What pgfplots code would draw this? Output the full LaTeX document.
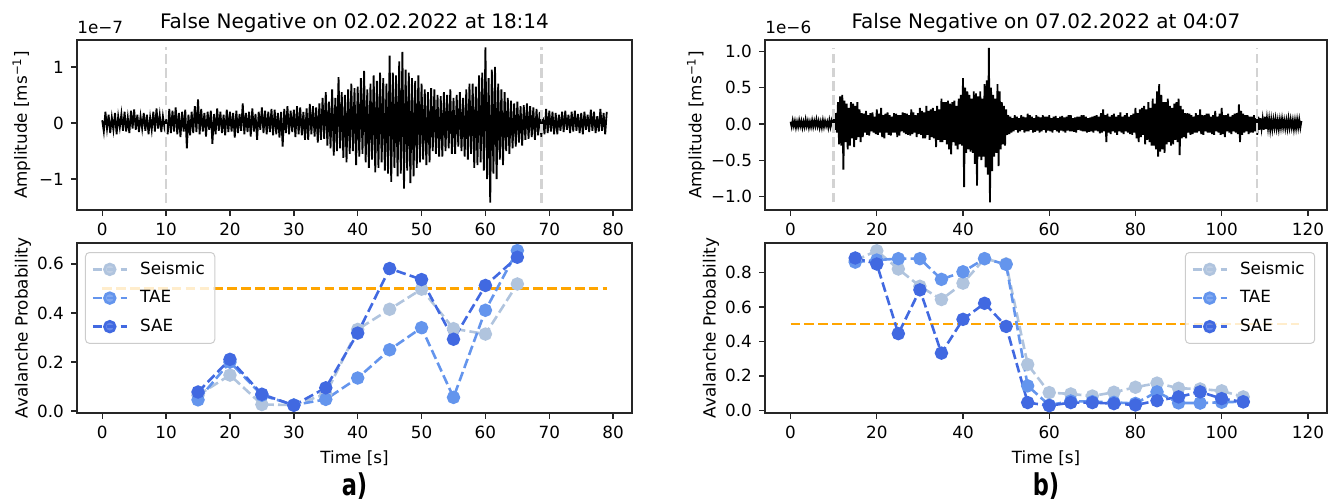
\documentclass[border=0pt]{standalone}
\usepackage{fontspec}
\setmainfont{DejaVu Sans}
\usepackage{graphicx}
\usepackage{pgfplots}
\usepackage{pgfplotstable}
\pgfplotsset{compat=1.18}
\definecolor{seis}{HTML}{B0C4DE}
\definecolor{tae}{HTML}{6495ED}
\definecolor{sae}{HTML}{4169E1}
\definecolor{orng}{HTML}{FFA500}
\definecolor{vgrey}{HTML}{D3D3D3}
\definecolor{lgdedge}{HTML}{CCCCCC}
\definecolor{axgrey}{HTML}{262626}

% waveform a), units 1e-7, one sample every 0.25 s
\pgfplotstableread[header=false,row sep=\\]{
0.05\\-0.15\\0.2\\-0.1\\ 0.15\\-0.18\\0.1\\-0.12\\ 0.18\\-0.2\\0.12\\-0.08\\ 0.16\\-0.14\\0.2\\-0.15\\
0.1\\-0.18\\0.22\\-0.1\\ 0.24\\-0.12\\0.15\\-0.16\\ 0.12\\-0.1\\0.18\\-0.14\\ 0.15\\-0.2\\0.1\\-0.12\\
0.2\\-0.15\\0.26\\-0.1\\ 0.14\\-0.16\\0.12\\-0.08\\ 0.05\\-0.2\\0.25\\-0.18\\ 0.22\\-0.15\\0.28\\-0.2\\
0.18\\-0.25\\0.2\\-0.15\\ 0.24\\-0.45\\0.15\\-0.22\\ 0.2\\-0.18\\0.3\\-0.16\\ 0.42\\-0.2\\0.25\\-0.15\\
0.18\\-0.24\\0.2\\-0.12\\ 0.22\\-0.37\\0.16\\-0.2\\ 0.26\\-0.14\\0.2\\-0.18\\ 0.15\\-0.22\\0.24\\-0.16\\
0.2\\-0.15\\0.18\\-0.26\\ 0.22\\-0.18\\0.16\\-0.14\\ 0.35\\-0.2\\0.18\\-0.16\\ 0.2\\-0.24\\0.26\\-0.15\\
0.16\\-0.3\\0.2\\-0.12\\ 0.28\\-0.18\\0.22\\-0.2\\ 0.2\\-0.16\\0.25\\-0.22\\ 0.24\\-0.2\\0.18\\-0.26\\
0.2\\-0.42\\0.25\\-0.18\\ 0.3\\-0.2\\0.22\\-0.16\\ 0.24\\-0.25\\0.3\\-0.2\\ 0.28\\-0.22\\0.2\\-0.3\\
0.26\\-0.3\\0.34\\-0.2\\ 0.3\\-0.24\\0.28\\-0.35\\ 0.35\\-0.3\\0.45\\-0.28\\ 0.55\\-0.4\\0.38\\-0.45\\
0.6\\-0.58\\0.45\\-0.5\\ 0.82\\-0.45\\0.55\\-0.62\\ 0.5\\-0.7\\0.6\\-0.55\\ 0.7\\-0.5\\0.62\\-0.75\\
0.65\\-0.6\\0.8\\-0.55\\ 0.93\\-0.7\\0.6\\-0.8\\ 0.7\\-0.65\\0.85\\-0.88\\ 0.75\\-0.8\\0.9\\-0.7\\
0.8\\-0.85\\0.7\\-0.9\\ 1.2\\-1.05\\0.9\\-0.8\\ 0.85\\-0.95\\1.1\\-0.9\\ 1.27\\-1.17\\0.95\\-0.85\\
0.9\\-1.07\\0.8\\-0.95\\ 0.75\\-0.8\\0.85\\-0.7\\ 0.7\\-0.65\\0.6\\-0.75\\ 0.55\\-0.7\\0.62\\-0.5\\
0.6\\-0.55\\0.5\\-0.6\\ 0.48\\-0.6\\0.55\\-0.5\\ 0.5\\-0.45\\0.6\\-0.55\\ 0.45\\-0.55\\0.5\\-0.42\\
0.55\\-0.5\\0.45\\-0.6\\ 0.6\\-0.65\\0.7\\-0.55\\ 0.7\\-0.8\\0.65\\-0.75\\ 0.85\\-0.7\\0.9\\-0.85\\
1.35\\-1.0\\0.8\\-1.42\\ 0.95\\-0.9\\1.0\\-1.0\\ 0.7\\-0.65\\0.6\\-0.75\\ 0.55\\-0.5\\0.45\\-0.55\\
0.4\\-0.45\\0.35\\-0.42\\ 0.38\\-0.35\\0.3\\-0.4\\ 0.32\\-0.3\\0.35\\-0.28\\ 0.3\\-0.25\\0.28\\-0.3\\
0.25\\-0.22\\0.2\\-0.25\\ 0.1\\-0.2\\0.25\\-0.18\\ 0.22\\-0.15\\0.2\\-0.2\\ 0.18\\-0.2\\0.15\\-0.14\\
0.2\\-0.16\\0.22\\-0.12\\ 0.15\\-0.18\\0.2\\-0.15\\ 0.22\\-0.14\\0.16\\-0.18\\ 0.18\\-0.2\\0.2\\-0.12\\
0.15\\-0.16\\0.24\\-0.14\\ 0.2\\-0.18\\0.12\\-0.15\\ 0.25\\-0.14\\0.18\\-0.2\\ 0.2\\
}\wavea

% waveform b), units 1e-6, one sample every 0.25 s
\pgfplotstableread[header=false,row sep=\\]{
0.03\\-0.04\\0.05\\-0.03\\ 0.04\\-0.05\\0.03\\-0.04\\ 0.05\\-0.03\\0.04\\-0.05\\ 0.03\\-0.04\\0.06\\-0.03\\
0.04\\-0.05\\0.03\\-0.04\\ 0.05\\-0.04\\0.04\\-0.03\\ 0.06\\-0.03\\0.04\\-0.05\\ 0.03\\-0.05\\0.05\\-0.04\\
0.04\\-0.03\\0.03\\-0.05\\ 0.05\\-0.04\\0.04\\-0.03\\ 0.06\\-0.08\\0.15\\-0.12\\ 0.3\\-0.28\\0.38\\-0.3\\
0.4\\-0.63\\0.32\\-0.25\\ 0.28\\-0.35\\0.22\\-0.3\\ 0.3\\-0.2\\0.28\\-0.32\\ 0.25\\-0.22\\0.3\\-0.18\\
0.2\\-0.25\\0.15\\-0.18\\ 0.14\\-0.12\\0.18\\-0.15\\ 0.12\\-0.16\\0.15\\-0.1\\ 0.16\\-0.12\\0.1\\-0.14\\
0.2\\-0.15\\0.14\\-0.12\\ 0.22\\-0.18\\0.12\\-0.2\\ 0.14\\-0.12\\0.16\\-0.15\\ 0.12\\-0.16\\0.1\\-0.12\\
0.15\\-0.12\\0.14\\-0.18\\ 0.12\\-0.16\\0.12\\-0.1\\ 0.16\\-0.12\\0.15\\-0.14\\ 0.14\\-0.15\\0.12\\-0.16\\
0.2\\-0.14\\0.16\\-0.12\\ 0.12\\-0.18\\0.15\\-0.14\\ 0.22\\-0.15\\0.18\\-0.2\\ 0.16\\-0.2\\0.25\\-0.15\\
0.18\\-0.22\\0.2\\-0.18\\ 0.22\\-0.2\\0.18\\-0.32\\ 0.25\\-0.22\\0.2\\-0.25\\ 0.35\\-0.25\\0.3\\-0.22\\
0.3\\-0.28\\0.32\\-0.35\\ 0.28\\-0.42\\0.3\\-0.25\\ 0.32\\-0.3\\0.25\\-0.35\\ 0.35\\-0.28\\0.4\\-0.3\\
0.63\\-0.87\\0.5\\-0.4\\ 0.45\\-0.35\\0.4\\-0.38\\ 0.35\\-0.4\\0.45\\-0.55\\ 0.42\\-0.85\\0.38\\-0.45\\
0.45\\-0.5\\0.35\\-0.45\\ 0.55\\-0.6\\0.6\\-0.7\\ 1.05\\-1.08\\0.5\\-0.65\\ 0.4\\-0.45\\0.35\\-0.4\\
0.55\\-0.58\\0.45\\-0.35\\ 0.3\\-0.28\\0.25\\-0.3\\ 0.2\\-0.15\\0.12\\-0.14\\ 0.1\\-0.12\\0.08\\-0.1\\
0.12\\-0.08\\0.1\\-0.12\\ 0.08\\-0.1\\0.12\\-0.08\\ 0.1\\-0.12\\0.09\\-0.1\\ 0.14\\-0.1\\0.12\\-0.08\\
0.1\\-0.12\\0.08\\-0.11\\ 0.12\\-0.09\\0.1\\-0.12\\ 0.09\\-0.1\\0.12\\-0.08\\ 0.1\\-0.12\\0.1\\-0.09\\
0.12\\-0.1\\0.08\\-0.12\\ 0.1\\-0.08\\0.11\\-0.1\\ 0.08\\-0.12\\0.1\\-0.09\\ 0.11\\-0.1\\0.09\\-0.12\\
0.1\\-0.09\\0.12\\-0.1\\ 0.12\\-0.1\\0.08\\-0.11\\ 0.09\\-0.12\\0.1\\-0.08\\ 0.1\\-0.09\\0.12\\-0.1\\
0.12\\-0.1\\0.1\\-0.12\\ 0.08\\-0.11\\0.09\\-0.1\\ 0.1\\-0.12\\0.11\\-0.09\\ 0.12\\-0.1\\0.1\\-0.13\\
0.15\\-0.12\\0.2\\-0.1\\ 0.12\\-0.25\\0.14\\-0.12\\ 0.1\\-0.14\\0.12\\-0.1\\ 0.14\\-0.12\\0.1\\-0.15\\
0.12\\-0.1\\0.16\\-0.12\\ 0.1\\-0.14\\0.12\\-0.1\\ 0.15\\-0.12\\0.1\\-0.14\\ 0.12\\-0.15\\0.14\\-0.12\\
0.22\\-0.2\\0.15\\-0.25\\ 0.2\\-0.18\\0.22\\-0.15\\ 0.25\\-0.28\\0.2\\-0.22\\ 0.3\\-0.25\\0.22\\-0.3\\
0.35\\-0.3\\0.28\\-0.35\\ 0.45\\-0.45\\0.55\\-0.38\\ 0.4\\-0.35\\0.3\\-0.4\\ 0.3\\-0.28\\0.35\\-0.25\\
0.25\\-0.3\\0.22\\-0.28\\ 0.28\\-0.22\\0.3\\-0.25\\ 0.35\\-0.43\\0.25\\-0.2\\ 0.2\\-0.18\\0.15\\-0.2\\
0.15\\-0.12\\0.14\\-0.15\\ 0.12\\-0.14\\0.1\\-0.12\\ 0.15\\-0.12\\0.12\\-0.1\\ 0.2\\-0.14\\0.12\\-0.15\\
0.12\\-0.1\\0.14\\-0.12\\ 0.14\\-0.12\\0.1\\-0.14\\ 0.12\\-0.15\\0.18\\-0.1\\ 0.1\\-0.12\\0.14\\-0.15\\
0.22\\-0.14\\0.12\\-0.18\\ 0.12\\-0.1\\0.14\\-0.12\\ 0.1\\-0.14\\0.12\\-0.1\\ 0.14\\-0.12\\0.15\\-0.14\\
0.27\\-0.25\\0.18\\-0.15\\ 0.14\\-0.12\\0.12\\-0.1\\ 0.12\\-0.14\\0.1\\-0.12\\ 0.1\\-0.12\\0.12\\-0.1\\
0.08\\-0.15\\0.1\\-0.08\\ 0.08\\-0.06\\0.07\\-0.08\\ 0.1\\-0.07\\0.08\\-0.06\\ 0.07\\-0.08\\0.06\\-0.07\\
0.06\\-0.05\\0.07\\-0.06\\ 0.05\\-0.07\\0.06\\-0.05\\ 0.07\\-0.05\\0.05\\-0.06\\ 0.05\\-0.06\\0.07\\-0.05\\
0.06\\-0.05\\0.05\\-0.07\\ 0.05\\-0.06\\0.06\\-0.05\\ 0.06\\-0.05\\0.04\\
}\waveb

\pgfplotsset{
  base/.style={
    scale only axis,
    axis line style={axgrey, line width=0.7pt},
    tick align=outside,
    major tick length=3pt,
    tick style={axgrey, line width=0.7pt},
    xtick pos=bottom, ytick pos=left,
    tick label style={font=\fontsize{8.4}{10}\selectfont},
    label style={font=\fontsize{8.4}{10}\selectfont},
    title style={font=\fontsize{10}{12}\selectfont, at={(0.5,1)}, anchor=base, yshift=-0.5pt, inner sep=0pt},
    clip=false,
  },
  prob/.style={
    line width=1.3pt, dash pattern=on 4.85pt off 2.1pt,
    mark=*, mark size=2.7pt, mark options={solid},
  },
  lgd/.style={
    legend image code/.code={\draw[mark repeat=2,mark phase=2,##1] plot coordinates {(0pt,0pt) (8.5pt,0pt) (17pt,0pt)};},
    legend style={font=\fontsize{8.4}{10}\selectfont, draw=lgdedge, fill=white,
      fill opacity=0.8, text opacity=1, draw opacity=1, rounded corners=2pt,
      inner xsep=3pt, inner ysep=2.5pt, row sep=2.6pt, column sep=4pt, line width=0.5pt,
      cells={anchor=west}},
  },
}

\begin{document}
\begin{tikzpicture}
\path[use as bounding box] (0,0) rectangle (664pt,-251pt);

% ---------- a) top ----------
\begin{axis}[base, at={(38.5pt,-20pt)}, anchor=north west,
  width=277.5pt, height=85pt,
  xmin=-3.95, xmax=82.95, ymin=-1.55, ymax=1.48,
  xtick={0,10,...,80}, xticklabels={0,10,20,30,40,50,60,70,80},
  ytick={-1,0,1}, yticklabels={−1,0,1},
  title={False Negative on 02.02.2022 at 18:14},
  ylabel={Amplitude [ms\textsuperscript{−1}]},
  ylabel style={at={(axis description cs:-0.1,0.5)}, anchor=center},
]
\addplot[black, line width=0.9pt] table[x expr=\coordindex*0.25, y index=0] {\wavea};
\addplot[vgrey, line width=1.3pt, dash pattern=on 4.85pt off 2.1pt] coordinates {(10,-1.42) (10,1.35)};
\addplot[vgrey, line width=1.3pt, dash pattern=on 4.85pt off 2.1pt] coordinates {(68.8,-1.42) (68.8,1.35)};
\node[anchor=south west, inner sep=0pt, font=\fontsize{8.4}{10}\selectfont] at (rel axis cs:0,1) [yshift=3pt] {1e−7};
\end{axis}

% ---------- a) bottom ----------
\begin{axis}[base, lgd, at={(38.5pt,-121.5pt)}, anchor=north west,
  width=277.5pt, height=85pt,
  xmin=-3.95, xmax=82.95, ymin=-0.0075, ymax=0.685,
  xtick={0,10,...,80}, xticklabels={0,10,20,30,40,50,60,70,80},
  ytick={0,0.2,0.4,0.6}, yticklabels={0.0,0.2,0.4,0.6},
  xlabel={Time [s]}, ylabel={Avalanche Probability},
  ylabel style={at={(axis description cs:-0.0973,0.5)}, anchor=center},
  xlabel style={at={(axis description cs:0.5,-0.265)}, anchor=center},
  legend style={at={(axis description cs:0.0144,0.947)}, anchor=north west},
]
\addplot[orng, line width=1.3pt, dash pattern=on 4.85pt off 2.1pt, forget plot] coordinates {(0,0.5) (79,0.5)};
\addplot[seis, prob] coordinates {(15,0.065) (20,0.147) (25,0.027) (30,0.025) (35,0.07) (40,0.333) (45,0.415) (50,0.497) (55,0.336) (60,0.314) (65,0.518)};
\addplot[tae, prob] coordinates {(15,0.046) (20,0.2) (25,0.065) (30,0.025) (35,0.048) (40,0.135) (45,0.25) (50,0.34) (55,0.056) (60,0.411) (65,0.654)};
\addplot[sae, prob] coordinates {(15,0.078) (20,0.211) (25,0.069) (30,0.024) (35,0.095) (40,0.318) (45,0.581) (50,0.536) (55,0.293) (60,0.512) (65,0.627)};
\legend{Seismic, TAE, SAE}
\end{axis}

% ---------- b) top ----------
\begin{axis}[base, at={(382.5pt,-20pt)}, anchor=north west,
  width=281pt, height=85pt,
  xmin=-5.93, xmax=124.43, ymin=-1.186, ymax=1.157,
  xtick={0,20,...,120}, xticklabels={0,20,40,60,80,100,120},
  ytick={-1,-0.5,0,0.5,1}, yticklabels={−1.0,−0.5,0.0,0.5,1.0},
  title={False Negative on 07.02.2022 at 04:07},
  ylabel={Amplitude [ms\textsuperscript{−1}]},
  ylabel style={at={(axis description cs:-0.1228,0.5)}, anchor=center},
]
\addplot[black, line width=0.9pt] table[x expr=\coordindex*0.25, y index=0] {\waveb};
\addplot[vgrey, line width=1.3pt, dash pattern=on 4.85pt off 2.1pt] coordinates {(10,-1.08) (10,1.05)};
\addplot[vgrey, line width=1.3pt, dash pattern=on 4.85pt off 2.1pt] coordinates {(108.2,-1.08) (108.2,1.05)};
\node[anchor=south west, inner sep=0pt, font=\fontsize{8.4}{10}\selectfont] at (rel axis cs:0,1) [yshift=3pt] {1e−6};
\end{axis}

% ---------- b) bottom ----------
\begin{axis}[base, lgd, at={(382.5pt,-121.5pt)}, anchor=north west,
  width=281pt, height=85pt,
  xmin=-5.93, xmax=124.43, ymin=-0.0155, ymax=0.971,
  xtick={0,20,...,120}, xticklabels={0,20,40,60,80,100,120},
  ytick={0,0.2,0.4,0.6,0.8}, yticklabels={0.0,0.2,0.4,0.6,0.8},
  xlabel={Time [s]}, ylabel={Avalanche Probability},
  ylabel style={at={(axis description cs:-0.096,0.5)}, anchor=center},
  xlabel style={at={(axis description cs:0.5,-0.265)}, anchor=center},
  legend style={at={(axis description cs:0.979,0.947)}, anchor=north east},
]
\addplot[orng, line width=1.3pt, dash pattern=on 4.85pt off 2.1pt, forget plot] coordinates {(0,0.5) (118,0.5)};
\addplot[seis, prob] coordinates {(15,0.87) (20,0.926) (25,0.82) (30,0.72) (35,0.643) (40,0.738) (45,0.88) (50,0.85) (55,0.266) (60,0.103) (65,0.095) (70,0.083) (75,0.105) (80,0.134) (85,0.158) (90,0.128) (95,0.124) (100,0.113) (105,0.078)};
\addplot[tae, prob] coordinates {(15,0.86) (20,0.872) (25,0.88) (30,0.88) (35,0.76) (40,0.804) (45,0.88) (50,0.847) (55,0.142) (60,0.03) (65,0.054) (70,0.05) (75,0.046) (80,0.04) (85,0.107) (90,0.043) (95,0.042) (100,0.047) (105,0.05)};
\addplot[sae, prob] coordinates {(15,0.884) (20,0.849) (25,0.445) (30,0.699) (35,0.332) (40,0.528) (45,0.621) (50,0.487) (55,0.045) (60,0.027) (65,0.045) (70,0.045) (75,0.039) (80,0.031) (85,0.056) (90,0.078) (95,0.107) (100,0.068) (105,0.049)};
\legend{Seismic, TAE, SAE}
\end{axis}

\node[inner sep=0pt] at (177.25pt,-243pt) {\scalebox{0.75}[1]{\fontsize{15}{17}\selectfont\bfseries a)}};
\node[inner sep=0pt] at (523pt,-243pt) {\scalebox{0.75}[1]{\fontsize{15}{17}\selectfont\bfseries b)}};
\end{tikzpicture}
\end{document}
